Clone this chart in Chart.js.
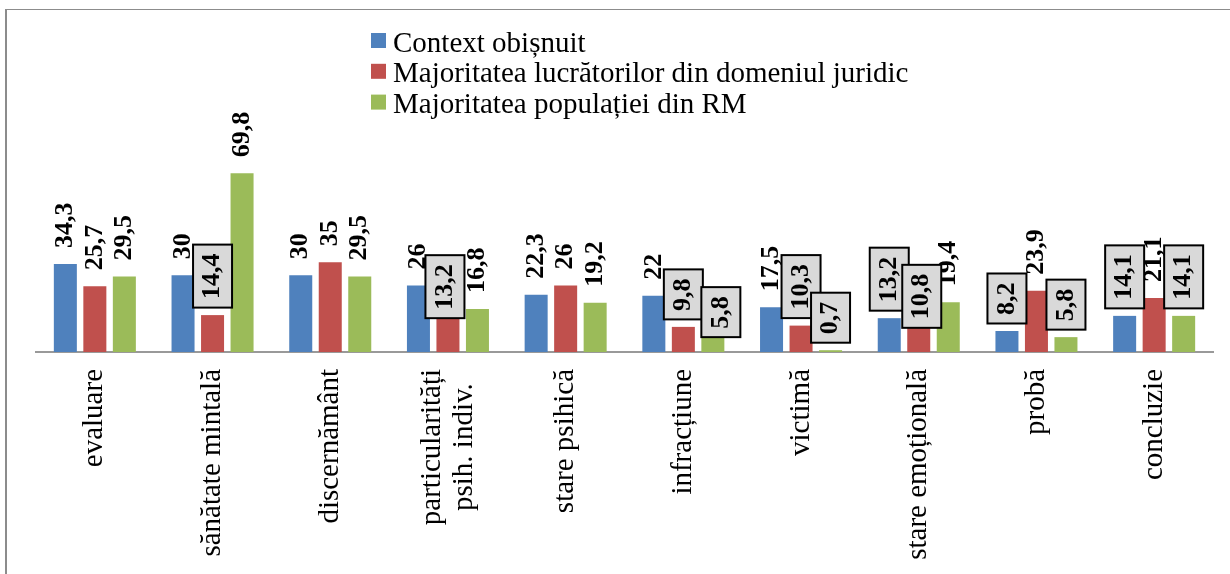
<!DOCTYPE html>
<html>
<head>
<meta charset="utf-8">
<title>Context obișnuit</title>
<script src="https://cdn.jsdelivr.net/npm/chart.js@4/dist/chart.umd.min.js"></script>
<style>
	html, body { margin: 0; padding: 0; background: #fff; }
	#wrap { position: relative; width: 1230px; height: 574px; }
</style>
</head>
<body>
<div id="wrap"><canvas id="chart" width="1230" height="574"></canvas></div>
<script>
// categories (x axis)
var categories = [
	'evaluare',
	'sănătate mintală',
	'discernământ',
	[ 'particularități', 'psih. indiv.' ],
	'stare psihică',
	'infracțiune',
	'victimă',
	'stare emoțională',
	'probă',
	'concluzie'
];

// series names
var seriesNames = [
	'Context obișnuit',
	'Majoritatea lucrătorilor din domeniul juridic',
	'Majoritatea populației din RM'
];

// series values
var contextObisnuit = [ 34.3, 30, 30, 26, 22.3, 22, 17.5, 13.2, 8.2, 14.1 ];
var lucratoriJuridic = [ 25.7, 14.4, 35, 13.2, 26, 9.8, 10.3, 10.8, 23.9, 21.1 ];
var populatieRM = [ 29.5, 69.8, 29.5, 16.8, 19.2, 5.8, 0.7, 19.4, 5.8, 14.1 ];

( function() {

	var colors = [ '#4f81bd', '#c0504d', '#9bbb59' ];
	var serif = '"Liberation Serif", "Times New Roman", serif';

	// labels drawn with a grey box ("dataset:index")
	var boxedLabels = [ '1:1', '1:3', '1:5', '2:5', '1:6', '2:6', '0:7', '1:7', '0:8', '2:8', '0:9', '2:9' ];

	// labels that were moved by hand in the original
	var labelNudges = {
		'1:3': [ -3, 7.5 ],
		'2:5': [ 8, 7.5 ],
		'1:7': [ 3, 11 ]
	};

	function formatValue( v ) {
		return String( v ).replace( '.', ',' );
	}

	/**
	 * White background and the frame lines.
	 */
	var framePlugin = {
		id: 'frame',
		beforeDraw: function( chart ) {
			var ctx = chart.ctx;

			ctx.save();
			ctx.fillStyle = '#fff';
			ctx.fillRect( 0, 0, chart.width, chart.height );

			ctx.fillStyle = '#8c8c8c';
			ctx.fillRect( 5, 9, chart.width - 5, 1 );
			ctx.fillRect( 5, 9, 2, chart.height - 9 );
			ctx.restore();
		}
	};

	/**
	 * Category labels, rotated, lines centred on each other.
	 */
	var categoryLabelsPlugin = {
		id: 'categoryLabels',
		afterDraw: function( chart ) {
			var ctx = chart.ctx;
			var scale = chart.scales.x;
			var lineHeight = 32;

			ctx.save();
			ctx.font = '29px ' + serif;
			ctx.fillStyle = '#000';
			ctx.textAlign = 'center';
			ctx.textBaseline = 'middle';

			categories.forEach( function( label, i ) {
				var lines = Array.isArray( label ) ? label : [ label ];
				var maxWidth = 0;

				lines.forEach( function( line ) {
					maxWidth = Math.max( maxWidth, ctx.measureText( line ).width );
				} );

				ctx.save();
				ctx.translate( scale.getPixelForTick( i ), scale.top + 17 );
				ctx.rotate( -Math.PI / 2 );

				lines.forEach( function( line, j ) {
					ctx.fillText( line, -maxWidth / 2, ( j - ( lines.length - 1 ) / 2 ) * lineHeight );
				} );

				ctx.restore();
			} );

			ctx.restore();
		}
	};

	/**
	 * Value labels above the bars.
	 */
	var valueLabelsPlugin = {
		id: 'valueLabels',
		afterDatasetsDraw: function( chart ) {
			var ctx = chart.ctx;

			ctx.save();
			ctx.font = 'bold 26px ' + serif;

			// plain labels first, boxed ones on top
			[ false, true ].forEach( function( pass ) {
				chart.data.datasets.forEach( function( dataset, di ) {
					var meta = chart.getDatasetMeta( di );

					meta.data.forEach( function( bar, i ) {
						var key = di + ':' + i;
						var boxed = boxedLabels.indexOf( key ) !== -1;

						if ( boxed !== pass )
							return;

						var text = formatValue( dataset.data[i] );
						var nudge = labelNudges[key] || [ 0, 0 ];
						var w = ctx.measureText( text ).width;

						ctx.save();
						ctx.translate( bar.x + nudge[0], bar.y - 16 + nudge[1] );
						ctx.rotate( -Math.PI / 2 );

						if ( boxed ) {
							ctx.fillStyle = '#d9d9d9';
							ctx.fillRect( -8.5, -19.5, w + 17.5, 39 );
							ctx.lineWidth = 2;
							ctx.strokeStyle = '#000';
							ctx.strokeRect( -8.5, -19.5, w + 17.5, 39 );
						}

						ctx.fillStyle = '#000';
						ctx.textAlign = 'left';
						ctx.textBaseline = 'middle';
						ctx.fillText( text, 0, 0 );
						ctx.restore();
					} );
				} );
			} );

			ctx.restore();
		}
	};

	/**
	 * Legend, one entry per line.
	 */
	var legendPlugin = {
		id: 'stackedLegend',
		afterDraw: function( chart ) {
			var ctx = chart.ctx;

			ctx.save();
			ctx.font = '29px ' + serif;
			ctx.textAlign = 'left';
			ctx.textBaseline = 'alphabetic';

			chart.data.datasets.forEach( function( dataset, i ) {
				var top = 33 + i * 30.8;

				ctx.fillStyle = dataset.backgroundColor;
				ctx.fillRect( 371, top, 15, 15 );

				ctx.fillStyle = '#000';
				ctx.fillText( dataset.label, 393, top + 18.5 );
			} );

			ctx.restore();
		}
	};

	var config = {
		type: 'bar',
		data: {
			labels: categories,
			datasets: [ contextObisnuit, lucratoriJuridic, populatieRM ].map( function( values, i ) {
				return {
					label: seriesNames[i],
					data: values,
					backgroundColor: colors[i],
					borderWidth: 0,
					categoryPercentage: 0.752,
					barPercentage: 0.78
				};
			} )
		},
		options: {
			responsive: false,
			animation: false,
			layout: {
				padding: { left: 36, right: 17, top: 147, bottom: 0 }
			},
			plugins: {
				legend: { display: false },
				tooltip: { enabled: false }
			},
			scales: {
				x: {
					grid: { display: false, drawTicks: false },
					border: { display: true, color: '#999', width: 2 },
					ticks: { display: false },
					afterFit: function( scale ) {
						scale.height = 222;
					}
				},
				y: {
					display: false,
					min: 0,
					max: 80
				}
			}
		},
		plugins: [ framePlugin, categoryLabelsPlugin, valueLabelsPlugin, legendPlugin ]
	};

	window.chart = new Chart( document.getElementById( 'chart' ).getContext( '2d' ), config );

} )();
</script>
</body>
</html>
